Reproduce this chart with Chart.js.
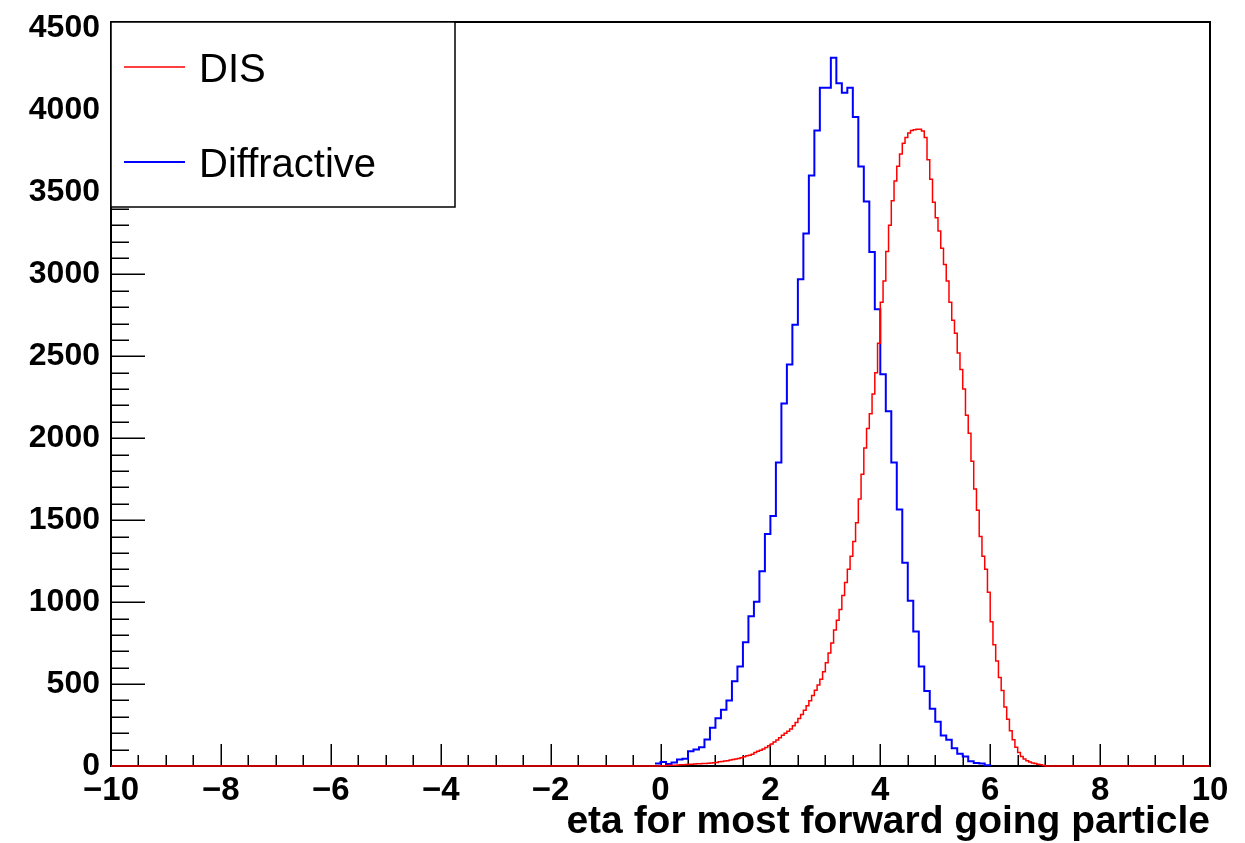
<!DOCTYPE html>
<html>
<head>
<meta charset="utf-8">
<title>eta for most forward going particle</title>
<script src="https://cdn.jsdelivr.net/npm/chart.js@4.4.1/dist/chart.umd.min.js"></script>
<style>
  html, body { margin: 0; padding: 0; background: #ffffff; }
  #wrap { width: 1245px; height: 843px; position: relative; }
</style>
</head>
<body>
<div id="wrap"><canvas id="c" width="1245" height="843"></canvas></div>
<script>
// Axis ranges and labelled ticks
const X_MIN = -10, X_MAX = 10;
const Y_MIN = 0, Y_MAX = 4540;
const X_TICKS = [-10, -8, -6, -4, -2, 0, 2, 4, 6, 8, 10];
const Y_TICKS = [0, 500, 1000, 1500, 2000, 2500, 3000, 3500, 4000, 4500];
const X_MINOR_STEP = 0.5;
const Y_MINOR_STEP = 100;

const X_TITLE = 'eta for most forward going particle';
const SERIES_NAMES = ['DIS', 'Diffractive'];

// Diffractive: 0.1-wide bins, first filled bin starts at eta = -0.1
const DIFF_FIRST_EDGE = -0.1;
const DIFF_BIN_WIDTH = 0.1;
const DIFF_COUNTS = [
  15, 25, 12, 22, 40, 45, 90, 100, 115, 162,
  233, 291, 343, 399, 517, 607, 755, 914, 1003, 1188,
  1416, 1526, 1852, 2212, 2450, 2693, 2970, 3250, 3604, 3878,
  4139, 4139, 4322, 4167, 4108, 4139, 3960, 3659, 3445, 3136,
  2787, 2390, 2165, 1852, 1565, 1240, 1009, 820, 607, 457,
  350, 270, 186, 160, 109, 74, 58, 29, 18, 15,
  5
];

// DIS: 0.05-wide bins, first filled bin starts at eta = 0
const DIS_FIRST_EDGE = 0.0;
const DIS_BIN_WIDTH = 0.05;
const DIS_COUNTS = [
  2, 2, 3, 4, 4, 5, 6, 7, 8, 9,
  10, 11, 12, 13, 14, 15, 16, 17, 18, 20,
  22, 26, 28, 30, 32, 36, 40, 43, 46, 50,
  56, 62, 66, 72, 82, 90, 96, 103, 113, 124,
  135, 146, 158, 172, 187, 200, 212, 226, 245, 265,
  290, 315, 340, 368, 398, 430, 463, 495, 530, 575,
  630, 690, 750, 830, 890, 955, 1040, 1120, 1200, 1280,
  1370, 1485, 1630, 1780, 1940, 2060, 2150, 2270, 2400, 2580,
  2830, 2960, 3140, 3300, 3450, 3570, 3660, 3735, 3800, 3835,
  3862, 3878, 3883, 3885, 3885, 3875, 3835, 3700, 3580, 3440,
  3345, 3265, 3160, 3060, 2960, 2830, 2720, 2640, 2520, 2420,
  2300, 2140, 2030, 1860, 1690, 1560, 1400, 1280, 1200, 1060,
  880, 740, 640, 540, 460, 360, 285, 215, 160, 115,
  82, 58, 42, 32, 24, 19, 15, 11, 7, 3
];

const FONT = '"Liberation Sans", Arial, Helvetica, sans-serif';

const edge = v => Math.round(v * 1e6) / 1e6;

// Turn bin contents into step points, one per bin at its lower edge,
// closed by a zero point at the upper edge of the last bin.
// With fullRange the empty stretches out to both axis ends are included.
function histogramPoints(firstEdge, width, counts, fullRange) {
  const pts = [];
  if (fullRange) pts.push({ x: X_MIN, y: 0 });
  counts.forEach((c, i) => pts.push({ x: edge(firstEdge + i * width), y: c }));
  pts.push({ x: edge(firstEdge + counts.length * width), y: 0 });
  if (fullRange) pts.push({ x: X_MAX, y: 0 });
  return pts;
}

function signedLabel(v) {
  return v < 0 ? '\u2212' + Math.abs(v) : String(v);
}

// Frame and inward-pointing ticks, drawn under the histograms
const framePlugin = {
  id: 'frame',
  beforeDatasetsDraw(chart) {
    const { ctx, chartArea: a, scales: { x, y } } = chart;
    ctx.save();
    ctx.strokeStyle = '#000';
    ctx.lineWidth = 2;
    ctx.strokeRect(a.left, a.top, a.right - a.left, a.bottom - a.top);
    ctx.lineWidth = 1.5;
    ctx.beginPath();
    for (let v = X_MIN; v <= X_MAX + 1e-9; v += X_MINOR_STEP) {
      const px = Math.round(x.getPixelForValue(v)) + 0.25;
      const major = X_TICKS.some(t => Math.abs(t - v) < 1e-9);
      ctx.moveTo(px, a.bottom);
      ctx.lineTo(px, a.bottom - (major ? 22 : 11));
    }
    for (let v = Y_MIN; v <= 4500 + 1e-9; v += Y_MINOR_STEP) {
      const py = Math.round(y.getPixelForValue(v)) + 0.25;
      const major = Y_TICKS.some(t => Math.abs(t - v) < 1e-9);
      ctx.moveTo(a.left, py);
      ctx.lineTo(a.left + (major ? 34 : 18), py);
    }
    ctx.stroke();
    ctx.restore();
  }
};

// Boxed legend in the top-left corner of the frame
const legendPlugin = {
  id: 'boxLegend',
  afterDatasetsDraw(chart) {
    const { ctx, chartArea: a } = chart;
    const left = a.left, top = a.top, right = 455, bottom = 207;
    ctx.save();
    ctx.fillStyle = '#fff';
    ctx.fillRect(left, top, right - left, bottom - top);
    ctx.strokeStyle = '#000';
    ctx.lineWidth = 1.5;
    ctx.strokeRect(left, top, right - left, bottom - top);
    const byName = name => chart.data.datasets.find(d => d.label === name);
    const rows = [
      { name: SERIES_NAMES[0], y: 67 },
      { name: SERIES_NAMES[1], y: 162 }
    ];
    ctx.font = '40px ' + FONT;
    ctx.textBaseline = 'alphabetic';
    ctx.textAlign = 'left';
    rows.forEach(r => {
      const ds = byName(r.name);
      ctx.strokeStyle = ds.borderColor;
      ctx.lineWidth = ds.borderWidth;
      ctx.beginPath();
      ctx.moveTo(124, r.y);
      ctx.lineTo(185, r.y);
      ctx.stroke();
      ctx.fillStyle = '#000';
      ctx.fillText(r.name, 199, r.y + 15);
    });
    ctx.restore();
  }
};

new Chart(document.getElementById('c').getContext('2d'), {
  type: 'line',
  data: {
    datasets: [
      {
        label: SERIES_NAMES[0],
        data: histogramPoints(DIS_FIRST_EDGE, DIS_BIN_WIDTH, DIS_COUNTS, true),
        borderColor: '#ff0000',
        borderWidth: 1.5,
        stepped: 'before',
        pointRadius: 0,
        fill: false,
        clip: 2,
        order: 0
      },
      {
        label: SERIES_NAMES[1],
        data: histogramPoints(DIFF_FIRST_EDGE, DIFF_BIN_WIDTH, DIFF_COUNTS, false),
        borderColor: '#0000ff',
        borderWidth: 2,
        stepped: 'before',
        pointRadius: 0,
        fill: false,
        clip: 2,
        order: 1
      }
    ]
  },
  options: {
    responsive: false,
    animation: false,
    devicePixelRatio: 1,
    layout: { padding: { top: 22, right: 35, left: 0, bottom: 0 } },
    plugins: { legend: { display: false }, tooltip: { enabled: false } },
    scales: {
      x: {
        type: 'linear',
        min: X_MIN,
        max: X_MAX,
        afterBuildTicks: s => { s.ticks = X_TICKS.map(v => ({ value: v })); },
        afterFit: s => { s.height = 77; s.paddingLeft = 0; s.paddingRight = 0; },
        grid: { display: false, drawTicks: false },
        border: { display: false },
        ticks: {
          padding: 5,
          color: '#000',
          autoSkip: false,
          maxRotation: 0,
          font: { family: FONT, size: 33, weight: 'bold' },
          callback: v => signedLabel(v)
        },
        title: {
          display: true,
          text: X_TITLE,
          align: 'end',
          color: '#000',
          font: { family: FONT, size: 39, weight: 'bold', lineHeight: 1 },
          padding: { top: 0, bottom: 1 }
        }
      },
      y: {
        type: 'linear',
        min: Y_MIN,
        max: Y_MAX,
        afterBuildTicks: s => { s.ticks = Y_TICKS.map(v => ({ value: v })); },
        afterFit: s => { s.width = 111; s.paddingTop = 0; s.paddingBottom = 0; },
        grid: { display: false, drawTicks: false },
        border: { display: false },
        ticks: {
          padding: 11,
          color: '#000',
          font: { family: FONT, size: 32, weight: 'bold' },
          callback: v => String(v)
        }
      }
    }
  },
  plugins: [framePlugin, legendPlugin]
});
</script>
</body>
</html>
